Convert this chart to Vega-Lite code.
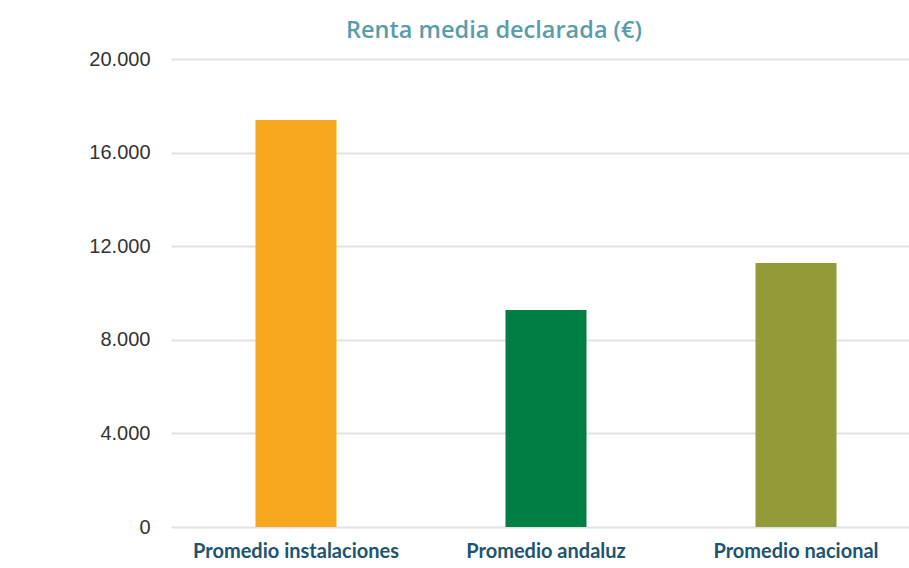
{
  "$schema": "https://vega.github.io/schema/vega-lite/v6.json",
  "width": 750,
  "height": 468,
  "autosize": {"type": "none"},
  "padding": {"left": 171, "top": 59, "right": 0, "bottom": 41},
  "background": "#ffffff",
  "title": {
    "text": "Renta media declarada (€)",
    "anchor": "middle",
    "dx": -52,
    "offset": 7,
    "font": "Open Sans",
    "fontWeight": 600,
    "fontSize": 23.5,
    "color": "#5a9daa"
  },
  "data": {
    "values": [
      {"categoria": "Promedio instalaciones", "renta": 17390},
      {"categoria": "Promedio andaluz", "renta": 9270},
      {"categoria": "Promedio nacional", "renta": 11280}
    ]
  },
  "mark": {"type": "bar"},
  "encoding": {
    "x": {
      "field": "categoria",
      "type": "nominal",
      "sort": null,
      "scale": {"paddingInner": 0.676, "paddingOuter": 0.338},
      "axis": {
        "title": null,
        "labelAngle": 0,
        "labelFont": "Lato",
        "labelFontWeight": "bold",
        "labelFontSize": 20,
        "labelColor": "#1d5470",
        "labelPadding": 14,
        "labelLimit": 0,
        "ticks": false,
        "domain": false,
        "grid": false
      }
    },
    "y": {
      "field": "renta",
      "type": "quantitative",
      "scale": {"domain": [0, 20000], "nice": false},
      "axis": {
        "title": null,
        "values": [0, 4000, 8000, 12000, 16000, 20000],
        "labelExpr": "replace(format(datum.value, ','), ',', '.')",
        "labelFont": "Liberation Sans",
        "labelFontSize": 20,
        "labelColor": "#333333",
        "labelPadding": 21,
        "ticks": false,
        "domain": false,
        "grid": true,
        "gridColor": "#dde3e2",
        "gridWidth": 2,
        "gridOpacity": 1
      }
    },
    "color": {
      "field": "categoria",
      "type": "nominal",
      "scale": {
        "domain": ["Promedio instalaciones", "Promedio andaluz", "Promedio nacional"],
        "range": ["#f6a71d", "#007f45", "#939b38"]
      },
      "legend": null
    }
  },
  "config": {"view": {"stroke": null}}
}
